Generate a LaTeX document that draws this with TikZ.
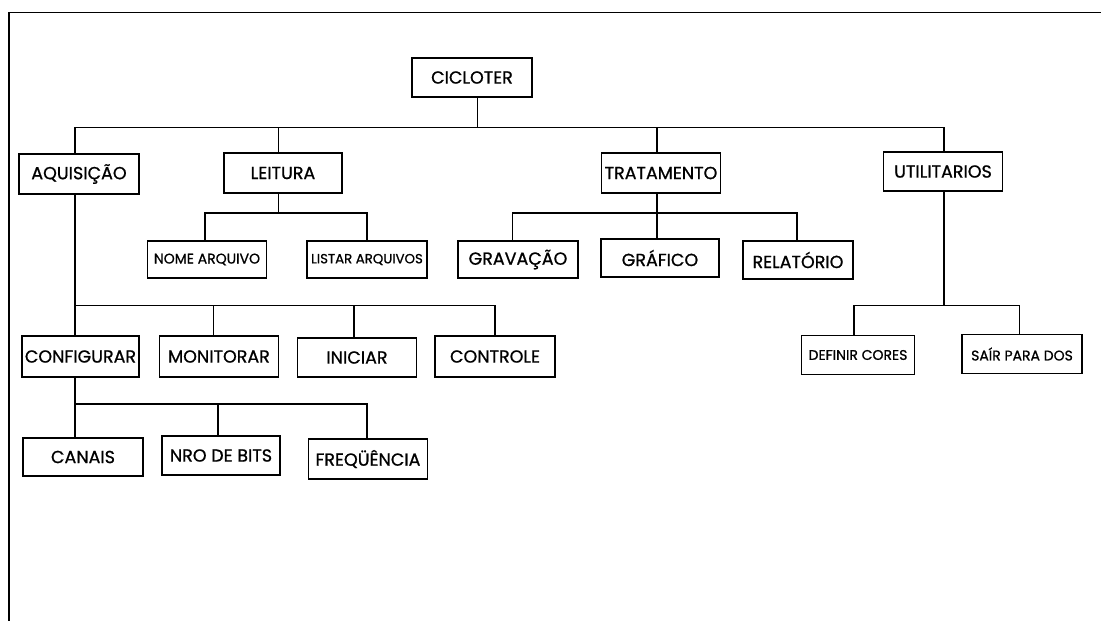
\documentclass[tikz,border=0pt]{standalone}
\usepackage{fontspec}
\newfontfamily\gothic{Poppins}[FakeBold=0.9]
\begin{document}
\begin{tikzpicture}[x=1pt,y=-1pt,
  box/.style={draw,line width=1.2pt,rectangle,inner sep=1pt,font=\gothic\fontsize{17.5}{18}\selectfont},
  sbox/.style={box,font=\gothic\fontsize{14}{15}\selectfont},
  link/.style={line width=1.2pt},
  frame/.style={line width=1.8pt}]
\useasboundingbox (0,0) rectangle (1101,621);
% frame
\coordinate (fl) at (9,621);
\coordinate (fc) at (9,12.5);
\coordinate (fr) at (1101,12.5);
\draw[frame] (fl) -- (fc) -- (fr);
% nodes
\node[box,minimum width=120,minimum height=39] (cic) at (472,77.5) {CICLOTER};
\node[box,minimum width=120,minimum height=40] (aq) at (79,174) {AQUISIÇÃO};
\node[box,minimum width=118,minimum height=40] (lei) at (283,173) {LEITURA};
\node[box,minimum width=119,minimum height=40] (tra) at (661,173) {TRATAMENTO};
\node[box,minimum width=119,minimum height=39] (uti) at (943,171.5) {UTILITARIOS};
\node[sbox,minimum width=119,minimum height=37] (nome) at (207,259.5) {NOME ARQUIVO};
\node[sbox,minimum width=120,minimum height=37,font=\gothic\fontsize{13.3}{14}\selectfont] (listar) at (367,259.5) {LISTAR ARQUIVOS};
\node[box,minimum width=120,minimum height=37] (grav) at (518,259.5) {GRAVAÇÃO};
\node[box,minimum width=118,minimum height=38] (graf) at (660,258) {GRÁFICO};
\node[box,minimum width=110,minimum height=38] (rel) at (798,260) {RELATÓRIO};
\node[box,minimum width=117,minimum height=41] (conf) at (80.5,356.5) {CONFIGURAR};
\node[box,minimum width=119,minimum height=41] (mon) at (219,356.5) {MONITORAR};
\node[box,minimum width=119,minimum height=39] (ini) at (357,357.5) {INICIAR};
\node[box,minimum width=120,minimum height=41] (ctrl) at (495,356.5) {CONTROLE};
\node[sbox,minimum width=113,minimum height=39] (def) at (858,355) {DEFINIR CORES};
\node[sbox,minimum width=120,minimum height=39] (sair) at (1022,354) {SAÍR PARA DOS};
\node[box,minimum width=120,minimum height=38] (can) at (83,457) {CANAIS};
\node[box,minimum width=118,minimum height=39] (nro) at (221,455.5) {NRO DE BITS};
\node[box,minimum width=119,minimum height=40] (freq) at (368,459) {FREQÜÊNCIA};
% bus levels
\coordinate (y1) at (0,127.5);
\coordinate (y2) at (0,213);
\coordinate (y3) at (0,305.7);
\coordinate (y4) at (0,404);
% level 1
\draw[link] ([xshift=5.5]cic.south) -- ([xshift=5.5]cic.south |- y1);
\draw[link] ([xshift=-4]aq.north) |- ([xshift=1]uti.north |- y1) -- ([xshift=1]uti.north);
\draw[link] ([xshift=-4.4]lei.north) -- ([xshift=-4.4]lei.north |- y1);
\draw[link] ([xshift=-4]tra.north) -- ([xshift=-4]tra.north |- y1);
% leitura
\draw[link] ([xshift=-4.4]lei.south) -- ([xshift=-4.4]lei.south |- y2);
\draw[link] ([xshift=-2]nome.north) |- (listar.north |- y2) -- (listar.north);
% tratamento
\draw[link] ([xshift=-4]tra.south) -- ([xshift=-4]tra.south |- y2);
\draw[link] ([xshift=-5.5]grav.north) |- ([xshift=-1]rel.north |- y2) -- ([xshift=-1]rel.north);
\draw[link] ([xshift=-3]graf.north) -- ([xshift=-3]graf.north |- y2);
% aquisicao
\draw[link] ([xshift=-4]aq.south) -- ([xshift=-5.5]conf.north);
\draw[link] ([xshift=-4]aq.south |- y3) -| (ctrl.north);
\draw[link] ([xshift=-5.4]mon.north) -- ([xshift=-5.4]mon.north |- y3);
\draw[link] ([xshift=-3]ini.north) -- ([xshift=-3]ini.north |- y3);
% utilitarios
\draw[link] ([xshift=1]uti.south) -- ([xshift=1]uti.south |- y3);
\draw[link] ([xshift=-4]def.north) |- ([xshift=-2.6]sair.north |- y3) -- ([xshift=-2.6]sair.north);
% configurar
\draw[link] ([xshift=-5.5]conf.south) -- ([xshift=-8]can.north);
\draw[link] ([xshift=-5.5]conf.south |- y4) -| ([xshift=-1]freq.north);
\draw[link] ([xshift=-3]nro.north) -- ([xshift=-3]nro.north |- y4);
\end{tikzpicture}
\end{document}
